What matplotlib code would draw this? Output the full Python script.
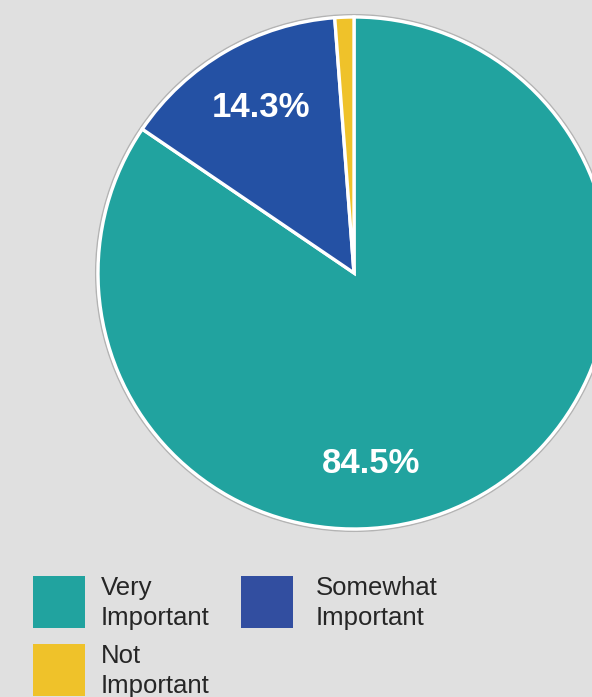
import matplotlib
matplotlib.use('Agg')
import matplotlib.pyplot as plt
from matplotlib.patches import Circle, Rectangle

categories = ["Very\nImportant", "Somewhat\nImportant", "Not\nImportant"]
shares = [84.5, 14.3, 1.2]
colors = ["#21A39F", "#2451A4", "#EFC22A"]
legend_colors = ["#21A39F", "#324EA0", "#EFC22A"]

plt.rcParams['font.family'] = ['Liberation Sans', 'DejaVu Sans']

W, H = 592, 697
fig = plt.figure(figsize=(W / 100, H / 100), dpi=100)
fig.patch.set_facecolor("#E0E0E0")
ax = fig.add_axes([0, 0, 1, 1])
ax.set_facecolor("#E0E0E0")

cx, cy, r = 354, H - 273, 256

# faint grey rim behind the pie
ax.add_patch(Circle((cx, cy), r + 2.2, facecolor="none", edgecolor="#A8A8A8",
                    linewidth=1.2, alpha=0.8, zorder=0))

wedges, texts, autotexts = ax.pie(
    shares, colors=colors, startangle=90, counterclock=False,
    center=(cx, cy), radius=r, autopct="%1.1f%%", pctdistance=0.745,
    wedgeprops=dict(edgecolor="white", linewidth=2.4),
    textprops=dict(color="white", fontsize=25, fontweight="bold"))

# the big slice's label sits low, just right of centre
autotexts[0].set_position((cx + 0.066 * r, cy - 0.745 * r))
autotexts[1].set_position((autotexts[1].get_position()[0] + 3,
                           autotexts[1].get_position()[1]))
autotexts[2].set_visible(False)

ax.set_xlim(0, W)
ax.set_ylim(0, H)
ax.set_aspect("equal")
ax.axis("off")

# legend: two items on the first row, one below
box = 52
slots = [(33, 576, 68), (241, 576, 75), (33, 644, 68)]
for (x0, y0, pad), c, lab in zip(slots, legend_colors, categories):
    ax.add_patch(Rectangle((x0, H - y0 - box), box, box, facecolor=c,
                           edgecolor="none"))
    for k, line in enumerate(lab.split("\n")):
        ax.text(x0 + pad, H - (y0 + 19 + 30 * k), line, fontsize=18.5,
                color="#262626", va="baseline", ha="left")

fig.savefig("out.png", dpi=100, facecolor=fig.get_facecolor())
